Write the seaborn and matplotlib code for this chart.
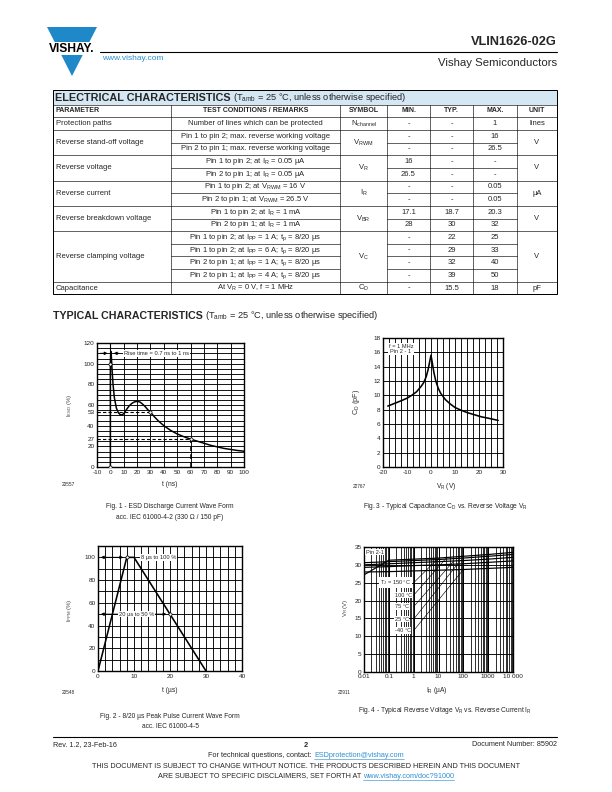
import numpy as np
import matplotlib
matplotlib.use("Agg")
import matplotlib.pyplot as plt
import seaborn as sns
from matplotlib.patches import Polygon, Rectangle

# ---------------- table data ----------------
table_params = ["Protection paths", "Reverse stand-off voltage", "Reverse voltage",
                "Reverse current", "Reverse breakdown voltage", "Reverse clamping voltage",
                "Capacitance"]
table_rows_per_param = [1, 2, 2, 2, 2, 4, 1]
table_conditions = [
    "Number of lines which can be protected",
    "Pin 1 to pin 2; max. reverse working voltage",
    "Pin 2 to pin 1; max. reverse working voltage",
    r"Pin 1 to pin 2; at I$_{\mathrm{R}}$ = 0.05 µA",
    r"Pin 2 to pin 1; at I$_{\mathrm{R}}$ = 0.05 µA",
    r"Pin 1 to pin 2; at V$_{\mathrm{RWM}}$ = 16 V",
    r"Pin 2 to pin 1; at V$_{\mathrm{RWM}}$ = 26.5 V",
    r"Pin 1 to pin 2; at I$_{\mathrm{R}}$ = 1 mA",
    r"Pin 2 to pin 1; at I$_{\mathrm{R}}$ = 1 mA",
    r"Pin 1 to pin 2; at I$_{\mathrm{PP}}$ = 1 A; t$_{\mathrm{p}}$ = 8/20 µs",
    r"Pin 1 to pin 2; at I$_{\mathrm{PP}}$ = 6 A; t$_{\mathrm{p}}$ = 8/20 µs",
    r"Pin 2 to pin 1; at I$_{\mathrm{PP}}$ = 1 A; t$_{\mathrm{p}}$ = 8/20 µs",
    r"Pin 2 to pin 1; at I$_{\mathrm{PP}}$ = 4 A; t$_{\mathrm{p}}$ = 8/20 µs",
    r"At V$_{\mathrm{R}}$ = 0 V, f = 1 MHz",
]
table_symbols = [r"N$_{\mathrm{channel}}$", r"V$_{\mathrm{RWM}}$", r"V$_{\mathrm{R}}$",
                 r"I$_{\mathrm{R}}$", r"V$_{\mathrm{BR}}$", r"V$_{\mathrm{C}}$", r"C$_{\mathrm{D}}$"]
table_min = ["-", "-", "-", "16", "26.5", "-", "-", "17.1", "28", "-", "-", "-", "-", "-"]
table_typ = ["-", "-", "-", "-", "-", "-", "-", "18.7", "30", "22", "29", "32", "39", "15.5"]
table_max = ["1", "16", "26.5", "-", "-", "0.05", "0.05", "20.3", "32", "25", "33", "40", "50", "18"]
table_units = ["lines", "V", "V", "µA", "V", "V", "pF"]
table_headers = ["PARAMETER", "TEST CONDITIONS / REMARKS", "SYMBOL", "MIN.", "TYP.", "MAX.", "UNIT"]

# ---------------- Fig. 1 : ESD waveform ----------------
esd_t = [0, 0, 0.3, 0.7, 1.2, 2.0, 3.0, 4.5, 6.0, 7.5, 9.0, 10.5, 12, 14, 16, 18, 20,
         22, 24, 26, 28, 30, 33, 36, 40, 45, 50, 55, 60, 65, 70, 75, 80, 85, 90, 95, 100]
esd_i = [0, 100, 112, 108, 96, 80, 67, 57, 52.5, 50.5, 50.5, 52.5, 55.5, 59, 61.5, 63, 63.5,
         63, 61, 58.5, 55.5, 53, 48.5, 44.5, 40, 35.5, 32, 29.3, 27, 25, 23, 21, 19.5, 18,
         17, 16, 15.3]
esd_marks_t = [0, 0, 30, 60]
esd_marks_i = [0, 100, 53, 27]
esd_xticks = [-10, 0, 10, 20, 30, 40, 50, 60, 70, 80, 90, 100]
esd_yticks = [0, 20, 27, 40, 53, 60, 80, 100, 120]

# ---------------- Fig. 2 : 8/20 us pulse ----------------
pulse_t = [0, 8, 10, 30]
pulse_i = [0, 100, 100, 0]
pulse_marks_t = [8, 20]
pulse_marks_i = [100, 50]
pulse_xticks = [0, 10, 20, 30, 40]
pulse_yticks = [0, 20, 40, 60, 80, 100]

# ---------------- Fig. 3 : capacitance ----------------
cap_v = [-18, -15, -12, -10, -8, -6, -4, -3, -2, -1.2, -0.6, 0, 0.6, 1.2, 2, 3, 4, 6, 8,
         10, 12, 15, 18, 21, 24, 28]
cap_c = [8.5, 8.9, 9.3, 9.6, 10.0, 10.5, 11.3, 11.8, 12.6, 13.6, 14.6, 15.6, 14.4, 13.2,
         12.0, 11.0, 10.3, 9.4, 8.8, 8.3, 8.0, 7.6, 7.3, 7.0, 6.8, 6.5]
cap_xticks = [-20, -10, 0, 10, 20, 30]
cap_yticks = [0, 2, 4, 6, 8, 10, 12, 14, 16, 18]

# ---------------- Fig. 4 : reverse voltage vs current ----------------
vr_current = [0.01, 0.1, 1, 10, 100, 1000, 10000]
vr_150 = [27.2, 31.3, 31.6, 31.9, 32.4, 32.9, 33.5]
vr_100 = [30.6, 30.9, 31.2, 31.5, 31.9, 32.4, 32.9]
vr_75 = [30.0, 30.3, 30.6, 30.9, 31.2, 31.6, 32.1]
vr_25 = [29.3, 29.5, 29.8, 30.0, 30.3, 30.7, 31.1]
vr_m40 = [28.0, 28.1, 28.3, 28.5, 28.7, 29.0, 29.3]
vr_labels = [r"T$_{\mathrm{J}}$ = 150 °C", "100 °C", "75 °C", "25 °C", "-40 °C"]
vr_xticklabels = ["0.01", "0.1", "1", "10", "100", "1000", "10 000"]
vr_yticks = [0, 5, 10, 15, 20, 25, 30, 35]

# ---------------- style ----------------
sns.set_theme(style="white")
plt.rcParams['font.family'] = ['Liberation Sans', 'DejaVu Sans']
plt.rcParams['mathtext.fontset'] = 'custom'
plt.rcParams['mathtext.rm'] = 'Liberation Sans'
plt.rcParams['mathtext.it'] = 'Liberation Sans:italic'
plt.rcParams['mathtext.bf'] = 'Liberation Sans:bold'
plt.rcParams['axes.unicode_minus'] = False

W, H = 612, 792
fig = plt.figure(figsize=(W / 72, H / 72), dpi=72)
bg = fig.add_axes([0, 0, 1, 1])
bg.set_xlim(0, W)
bg.set_ylim(H, 0)
bg.axis('off')
rend = fig.canvas.get_renderer()


def rect(x0, y0, x1, y1):
    return [x0 / W, 1 - y1 / H, (x1 - x0) / W, (y1 - y0) / H]


def text_width(t):
    bb = t.get_window_extent(renderer=rend)
    return bb.width  # 1 px == 1 data unit on bg


def pair_centered(xc, y, s1, s2, fs, c2, underline=True):
    t1 = bg.text(0, y, s1, ha='left', va='center', fontsize=fs)
    t2 = bg.text(0, y, s2, ha='left', va='center', fontsize=fs, color=c2)
    w1, w2 = text_width(t1), text_width(t2)
    x0 = xc - (w1 + w2) / 2
    t1.set_x(x0)
    t2.set_x(x0 + w1)
    if underline:
        bg.plot([x0 + w1, x0 + w1 + w2], [y + fs * 0.5, y + fs * 0.5], color=c2, lw=0.6)


BLUE = '#1f88c8'
LINK = '#2f8fd0'

# ---------------- header ----------------
bg.add_patch(Polygon([[47, 27], [97, 27], [72, 76]], closed=True, color=BLUE, lw=0))
bg.add_patch(Rectangle((44, 42), 56, 13, color='white', lw=0))
bg.text(72, 49.5, "VISHAY.", ha='center', va='center', fontsize=12, fontweight='bold',
        color='black')
bg.plot([100, 557], [52, 52], color='black', lw=1.1)
bg.text(557, 42, "VLIN1626-02G", ha='right', va='center', fontsize=12.8, fontweight='bold')
bg.text(557, 62.5, "Vishay Semiconductors", ha='right', va='center', fontsize=11.4)
bg.text(102, 58, "www.vishay.com", ha='left', va='center', fontsize=8.4, color=LINK)

# ---------------- table ----------------
cx = [53, 171, 340, 387, 430, 473, 517, 557]
t_top, t_hdr, t_body = 90, 104.5, 117.3
rh = 12.65
n_rows = len(table_conditions)
t_bot = t_body + n_rows * rh
fs_t = 7.6
bg.add_patch(Rectangle((cx[0], t_top), cx[-1] - cx[0], t_hdr - t_top, facecolor='#d5e7f3',
                       edgecolor='none'))
tt = bg.text(55, (t_top + t_hdr) / 2 + 0.3, "ELECTRICAL CHARACTERISTICS", ha='left',
             va='center', fontsize=10.9, fontweight='heavy')
bg.text(55 + text_width(tt) + 2.5, (t_top + t_hdr) / 2 + 0.3,
        r"(T$_{\mathrm{amb}}$ = 25 °C, unless otherwise specified)",
        ha='left', va='center', fontsize=9.3)
# header row
for i, h in enumerate(table_headers):
    ym = (t_hdr + t_body) / 2
    if i == 0:
        bg.text(cx[0] + 3, ym, h, ha='left', va='center', fontsize=7, fontweight='bold')
    else:
        bg.text((cx[i] + cx[i + 1]) / 2, ym, h, ha='center', va='center', fontsize=7,
                fontweight='bold')
# body
r = 0
for g, n in enumerate(table_rows_per_param):
    y0 = t_body + r * rh
    y1 = y0 + n * rh
    ym = (y0 + y1) / 2
    bg.text(cx[0] + 3, ym, table_params[g], ha='left', va='center', fontsize=fs_t)
    bg.text((cx[2] + cx[3]) / 2, ym, table_symbols[g], ha='center', va='center', fontsize=fs_t)
    bg.text((cx[6] + cx[7]) / 2, ym, table_units[g], ha='center', va='center', fontsize=fs_t)
    for k in range(n):
        idx = r + k
        yc = y0 + (k + 0.5) * rh
        bg.text((cx[1] + cx[2]) / 2, yc, table_conditions[idx], ha='center', va='center',
                fontsize=fs_t)
        bg.text((cx[3] + cx[4]) / 2, yc, table_min[idx], ha='center', va='center', fontsize=fs_t)
        bg.text((cx[4] + cx[5]) / 2, yc, table_typ[idx], ha='center', va='center', fontsize=fs_t)
        bg.text((cx[5] + cx[6]) / 2, yc, table_max[idx], ha='center', va='center', fontsize=fs_t)
        if k > 0:
            bg.plot([cx[1], cx[2]], [y0 + k * rh] * 2, color='black', lw=0.6)
            bg.plot([cx[3], cx[6]], [y0 + k * rh] * 2, color='black', lw=0.6)
    bg.plot([cx[0], cx[-1]], [y0, y0], color='black', lw=0.6)
    r += n
bg.plot([cx[0], cx[-1]], [t_hdr, t_hdr], color='black', lw=0.6)
for xv in cx[1:-1]:
    bg.plot([xv, xv], [t_hdr, t_bot], color='black', lw=0.6)
bg.add_patch(Rectangle((cx[0], t_top), cx[-1] - cx[0], t_bot - t_top, facecolor='none',
                       edgecolor='black', lw=1.0))

tt2 = bg.text(53, 316, "TYPICAL CHARACTERISTICS", ha='left', va='center', fontsize=10.6,
              fontweight='heavy')
bg.text(53 + text_width(tt2) + 2.5, 316, r"(T$_{\mathrm{amb}}$ = 25 °C, unless otherwise specified)",
        ha='left', va='center', fontsize=9.3)


def style_axes(ax):
    ax.set_facecolor('white')
    for s in ax.spines.values():
        s.set_visible(True)
        s.set_color('black')
        s.set_linewidth(1.4)
    ax.tick_params(axis='both', length=0, pad=2.5, labelsize=6.4, colors='#222222')
    ax.grid(False)
    ax.set_xlabel('')
    ax.set_ylabel('')


GRID = dict(color='black', lw=0.9, zorder=1)
small = 6.6

# ---------------- Fig. 1 ----------------
ax1 = fig.add_axes(rect(97, 343, 244, 467))
for v in np.arange(0, 121, 5):
    ax1.axhline(v, **GRID)
for v in np.arange(-10, 101, 10):
    ax1.axvline(v, **GRID)
ax1.plot([-10, 30], [53, 53], color='black', lw=1.1, ls=(0, (3, 2)), zorder=2)
ax1.plot([-10, 60], [27, 27], color='black', lw=1.1, ls=(0, (3, 2)), zorder=2)
ax1.plot([60, 60], [0, 27], color='black', lw=1.6, ls=(0, (3, 2)), zorder=2)
ax1.plot([0, 0], [0, 120], color='black', lw=1.1, zorder=2)
sns.lineplot(x=esd_t, y=esd_i, ax=ax1, color='black', lw=1.5, sort=False, estimator=None,
             zorder=3)
sns.scatterplot(x=esd_marks_t, y=esd_marks_i, ax=ax1, s=10, facecolor='white',
                edgecolor='black', linewidth=0.7, zorder=4)
ax1.annotate('', xy=(-0.5, 110), xytext=(-9, 110),
             arrowprops=dict(arrowstyle='-|>', color='black', lw=1.0, mutation_scale=6))
ax1.annotate('', xy=(1, 110), xytext=(8, 110),
             arrowprops=dict(arrowstyle='-|>', color='black', lw=1.0, mutation_scale=6))
ax1.text(10, 110, "Rise time = 0.7 ns to 1 ns", ha='left', va='center', fontsize=5.8,
         bbox=dict(facecolor='white', edgecolor='none', pad=0.8), zorder=5)
ax1.set_xlim(-10, 100)
ax1.set_ylim(0, 120)
style_axes(ax1)
ax1.set_xticks(esd_xticks)
ax1.set_yticks(esd_yticks)
bg.text(69, 405, r"I$_{\mathrm{ESD}}$ (%)", rotation=90, ha='center', va='center',
        fontsize=6, color='#444444')
bg.text(170, 485, "t (ns)", ha='center', va='center', fontsize=small)
bg.text(62, 484, "20557", ha='left', va='center', fontsize=4.8)
bg.text(170, 507, "Fig. 1 - ESD Discharge Current Wave Form", ha='center', va='center',
        fontsize=small)
bg.text(170, 517.5, "acc. IEC 61000-4-2 (330 Ω / 150 pF)", ha='center', va='center',
        fontsize=small)

# ---------------- Fig. 3 ----------------
ax3 = fig.add_axes(rect(383, 338, 503, 467))
for v in np.arange(0, 19, 2):
    ax3.axhline(v, **GRID)
for v in np.arange(-20, 30.1, 2.5):
    ax3.axvline(v, **GRID)
sns.lineplot(x=cap_v, y=cap_c, ax=ax3, color='black', lw=1.6, sort=False, estimator=None,
             zorder=3)
ax3.text(-12.5, 16.5, "f = 1 MHz\nPin 2 - 1", ha='center', va='center', fontsize=5.6,
         linespacing=1.0, bbox=dict(facecolor='white', edgecolor='none', pad=0.8), zorder=5)
ax3.set_xlim(-20, 30)
ax3.set_ylim(0, 18)
style_axes(ax3)
ax3.set_xticks(cap_xticks)
ax3.set_yticks(cap_yticks)
bg.text(357, 402, r"C$_{\mathrm{D}}$ (pF)", rotation=90, ha='center', va='center',
        fontsize=7.2, color='#333333')
bg.text(446, 487, r"V$_{\mathrm{R}}$ (V)", ha='center', va='center', fontsize=small)
bg.text(353, 486, "22767", ha='left', va='center', fontsize=4.8)
bg.text(445, 507, r"Fig. 3 - Typical Capacitance C$_{\mathrm{D}}$ vs. Reverse Voltage V$_{\mathrm{R}}$",
        ha='center', va='center', fontsize=small)

# ---------------- Fig. 2 ----------------
ax2 = fig.add_axes(rect(98, 546, 242, 671))
for v in np.arange(0, 111, 10):
    ax2.axhline(v, **GRID)
for v in np.arange(0, 41, 2):
    ax2.axvline(v, **GRID)
sns.lineplot(x=pulse_t, y=pulse_i, ax=ax2, color='black', lw=1.6, sort=False, estimator=None,
             zorder=3)
sns.scatterplot(x=pulse_marks_t, y=pulse_marks_i, ax=ax2, s=10, facecolor='white',
                edgecolor='black', linewidth=0.7, zorder=4)
ax2.annotate('', xy=(0.2, 100), xytext=(7.6, 100),
             arrowprops=dict(arrowstyle='<|-|>', color='black', lw=1.0, mutation_scale=6),
             zorder=4)
ax2.annotate('', xy=(0.2, 50), xytext=(19.6, 50),
             arrowprops=dict(arrowstyle='<|-|>', color='black', lw=1.0, mutation_scale=6),
             zorder=4)
ax2.text(12, 100, "8 µs to 100 %", ha='left', va='center', fontsize=5.8,
         bbox=dict(facecolor='white', edgecolor='none', pad=0.8), zorder=5)
ax2.text(5.8, 50, "20 µs to 50 %", ha='left', va='center', fontsize=5.8,
         bbox=dict(facecolor='white', edgecolor='none', pad=0.8), zorder=5)
ax2.set_xlim(0, 40)
ax2.set_ylim(0, 110)
style_axes(ax2)
ax2.set_xticks(pulse_xticks)
ax2.set_yticks(pulse_yticks)
bg.text(69, 610, r"I$_{\mathrm{PPM}}$ (%)", rotation=90, ha='center', va='center',
        fontsize=6, color='#444444')
bg.text(170, 691, "t (µs)", ha='center', va='center', fontsize=small)
bg.text(62, 693, "20548", ha='left', va='center', fontsize=4.8)
bg.text(170, 716, "Fig. 2 - 8/20 µs Peak Pulse Current Wave Form", ha='center', va='center',
        fontsize=small)
bg.text(170, 726.5, "acc. IEC 61000-4-5", ha='center', va='center', fontsize=small)

# ---------------- Fig. 4 ----------------
ax4 = fig.add_axes(rect(364, 547, 513, 672))
ax4.set_xscale('log')
for v in vr_yticks:
    ax4.axhline(v, **GRID)
for dec in [0.01, 0.1, 1, 10, 100, 1000]:
    for m in range(1, 11):
        ax4.axvline(dec * m, color='black', lw=1.0 if m in (1, 10) else 0.8, zorder=1)
series = [vr_150, vr_100, vr_75, vr_25, vr_m40]
for s in series:
    sns.lineplot(x=vr_current, y=s, ax=ax4, color='black', lw=1.2, sort=False,
                 estimator=None, zorder=3)
label_y = [25.0, 21.5, 18.3, 14.8, 11.6]
label_x = [0.045, 0.17, 0.17, 0.17, 0.17]
leader_end_x = [10, 20, 40, 60, 100]
leader_end_y = [31.9, 31.8, 31.0, 30.3, 28.7]
for lab, lx, ly, ex, ey in zip(vr_labels, label_x, label_y, leader_end_x, leader_end_y):
    ax4.plot([1.0, ex], [ly, ey], color='black', lw=0.6, zorder=2)
    ax4.text(lx, ly, lab, ha='left', va='center', fontsize=5.6,
             bbox=dict(facecolor='white', edgecolor='none', pad=0.8), zorder=5)
ax4.text(0.012, 33.6, "Pin 2-1", ha='left', va='center', fontsize=5.6,
         bbox=dict(facecolor='white', edgecolor='none', pad=0.8), zorder=5)
ax4.set_xlim(0.01, 10000)
ax4.set_ylim(0, 35)
style_axes(ax4)
ax4.set_xticks(vr_current)
ax4.set_xticklabels(vr_xticklabels)
ax4.minorticks_off()
ax4.set_yticks(vr_yticks)
bg.text(345, 608, r"V$_{\mathrm{R}}$ (V)", rotation=90, ha='center', va='center',
        fontsize=6, color='#444444')
bg.text(437, 691, r"I$_{\mathrm{R}}$ (µA)", ha='center', va='center', fontsize=small)
bg.text(338, 693, "22911", ha='left', va='center', fontsize=4.8)
bg.text(445, 711, r"Fig. 4 - Typical Reverse Voltage V$_{\mathrm{R}}$ vs. Reverse Current I$_{\mathrm{R}}$",
        ha='center', va='center', fontsize=small)

# ---------------- footer ----------------
fs_f = 7.3
bg.plot([53, 557], [737, 737], color='black', lw=1.1)
bg.text(53, 745, "Rev. 1.2, 23-Feb-16", ha='left', va='center', fontsize=fs_f)
bg.text(306, 745.5, "2", ha='center', va='center', fontsize=7.4, fontweight='bold')
bg.text(557, 745, "Document Number: 85902", ha='right', va='center', fontsize=fs_f)
pair_centered(306, 755.5, "For technical questions, contact: ", "ESDprotection@vishay.com",
              fs_f, LINK)
bg.text(306, 766, "THIS DOCUMENT IS SUBJECT TO CHANGE WITHOUT NOTICE. THE PRODUCTS DESCRIBED "
        "HEREIN AND THIS DOCUMENT", ha='center', va='center', fontsize=fs_f)
pair_centered(306, 776, "ARE SUBJECT TO SPECIFIC DISCLAIMERS, SET FORTH AT ",
              "www.vishay.com/doc?91000", fs_f, LINK)

fig.savefig("out.png", dpi=72)
